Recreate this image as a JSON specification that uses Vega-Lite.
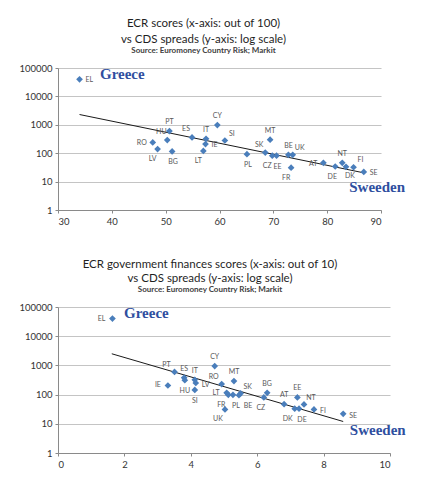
{
  "$schema": "https://vega.github.io/schema/vega-lite/v6.json",
  "background": "white",
  "padding": {"left": 18, "top": 17, "right": 0, "bottom": 0},
  "spacing": 32,
  "config": {
    "view": {"stroke": null},
    "font": "Lato",
    "axis": {"labelFont": "Lato", "labelFontSize": 9.5, "labelColor": "#333333", "tickColor": "#8a8a8a", "domainColor": "#8a8a8a", "tickSize": 3, "labelPadding": 3, "gridColor": "#C4C4C4", "gridWidth": 1.2, "title": null},
    "title": {"font": "Lato", "fontSize": 11.5, "fontWeight": "normal", "color": "#1f1f1f", "subtitleFont": "Lato", "subtitleFontSize": 8, "subtitleFontWeight": "bold", "subtitleColor": "#404040", "subtitlePadding": 2, "offset": 8, "anchor": "middle"},
    "text": {"font": "Lato", "fontSize": 7, "color": "#595959", "baseline": "middle"},
    "point": {"shape": "diamond", "filled": true, "size": 45, "color": "#4A7EBB", "opacity": 1}
  },
  "datasets": {
    "ecr": [
      {"c": "EL", "x": 34.0, "y": 40000},
      {"c": "RO", "x": 47.6, "y": 240},
      {"c": "LV", "x": 48.5, "y": 140},
      {"c": "HU", "x": 50.3, "y": 290},
      {"c": "PT", "x": 50.7, "y": 600},
      {"c": "BG", "x": 51.2, "y": 115},
      {"c": "ES", "x": 54.9, "y": 360},
      {"c": "IT", "x": 57.5, "y": 320},
      {"c": "IE", "x": 57.4, "y": 210},
      {"c": "LT", "x": 57.0, "y": 120},
      {"c": "CY", "x": 59.6, "y": 980},
      {"c": "SI", "x": 61.0, "y": 280},
      {"c": "PL", "x": 65.1, "y": 92},
      {"c": "SK", "x": 68.5, "y": 105},
      {"c": "MT", "x": 69.4, "y": 300},
      {"c": "CZ", "x": 69.8, "y": 82},
      {"c": "EE", "x": 70.6, "y": 82},
      {"c": "FR", "x": 73.3, "y": 31},
      {"c": "BE", "x": 72.8, "y": 88},
      {"c": "UK", "x": 73.6, "y": 88},
      {"c": "AT", "x": 79.3, "y": 46},
      {"c": "DE", "x": 81.5, "y": 34},
      {"c": "NT", "x": 82.8, "y": 46},
      {"c": "DK", "x": 83.5, "y": 33},
      {"c": "FI", "x": 84.9, "y": 32},
      {"c": "SE", "x": 86.8, "y": 22}
    ],
    "ecrTrend": [
      {"x": 34.0, "y": 2300},
      {"x": 87.0, "y": 20}
    ],
    "ecrNote": [
      {"t": "Greece", "x": 37.8, "y": 62000},
      {"t": "Sweeden", "x": 84.1, "y": 6.6}
    ],
    "gov": [
      {"c": "EL", "x": 1.64, "y": 40000},
      {"c": "PT", "x": 3.51, "y": 600},
      {"c": "IE", "x": 3.31, "y": 205},
      {"c": "ES", "x": 3.80, "y": 380},
      {"c": "HU", "x": 3.82, "y": 310},
      {"c": "IT", "x": 4.12, "y": 320},
      {"c": "LV", "x": 4.15, "y": 250},
      {"c": "SI", "x": 4.12, "y": 145},
      {"c": "CY", "x": 4.72, "y": 950},
      {"c": "RO", "x": 4.93, "y": 230},
      {"c": "MT", "x": 5.30, "y": 290},
      {"c": "LT", "x": 5.08, "y": 115},
      {"c": "FR", "x": 5.13, "y": 98},
      {"c": "PL", "x": 5.27, "y": 98},
      {"c": "SK", "x": 5.50, "y": 110},
      {"c": "BE", "x": 5.45, "y": 95},
      {"c": "UK", "x": 5.03, "y": 31},
      {"c": "CZ", "x": 6.20, "y": 80},
      {"c": "BG", "x": 6.30, "y": 115},
      {"c": "AT", "x": 6.81, "y": 47},
      {"c": "EE", "x": 7.21, "y": 80},
      {"c": "DK", "x": 7.13, "y": 33},
      {"c": "DE", "x": 7.26, "y": 33},
      {"c": "NT", "x": 7.41, "y": 46},
      {"c": "FI", "x": 7.71, "y": 31},
      {"c": "SE", "x": 8.59, "y": 22}
    ],
    "govTrend": [
      {"x": 1.62, "y": 2500},
      {"x": 8.59, "y": 12}
    ],
    "govNote": [
      {"t": "Greece", "x": 1.99, "y": 63000},
      {"t": "Sweeden", "x": 8.79, "y": 6.3}
    ]
  },
  "vconcat": [
    {
      "width": 323,
      "height": 142,
      "title": {"text": ["ECR scores (x-axis: out of 100)", "vs CDS spreads (y-axis: log scale)"], "subtitle": "Source: Euromoney Country Risk; Markit", "lineHeight": 16, "dx": -16},
      "layer": [
        {
          "data": {"name": "ecrTrend"},
          "mark": {"type": "line", "color": "#1a1a1a", "strokeWidth": 1},
          "encoding": {
            "x": {"field": "x", "type": "quantitative", "scale": {"domain": [30, 90], "nice": false}, "axis": {"values": [30, 40, 50, 60, 70, 80, 90], "grid": false}},
            "y": {"field": "y", "type": "quantitative", "scale": {"type": "log", "domain": [1, 100000], "nice": false}, "axis": {"values": [1, 10, 100, 1000, 10000, 100000], "format": "d", "grid": true}}
          }
        },
        {
          "data": {"name": "ecr"},
          "mark": {"type": "point"},
          "encoding": {"x": {"field": "x", "type": "quantitative"}, "y": {"field": "y", "type": "quantitative"}}
        },
        {
          "data": {"name": "ecr"},
          "transform": [{"filter": {"field": "c", "oneOf": ["EL", "IE", "SE"]}}],
          "mark": {"type": "text", "align": "left", "dx": 6, "dy": 1},
          "encoding": {"x": {"field": "x", "type": "quantitative"}, "y": {"field": "y", "type": "quantitative"}, "text": {"field": "c"}}
        },
        {
          "data": {"name": "ecr"},
          "transform": [{"filter": {"field": "c", "oneOf": ["RO", "AT"]}}],
          "mark": {"type": "text", "align": "right", "dx": -6, "dy": 1},
          "encoding": {"x": {"field": "x", "type": "quantitative"}, "y": {"field": "y", "type": "quantitative"}, "text": {"field": "c"}}
        },
        {
          "data": {"name": "ecr"},
          "transform": [{"filter": {"field": "c", "oneOf": ["PT", "IT", "CY", "MT", "BE", "NT"]}}],
          "mark": {"type": "text", "align": "center", "dy": -9},
          "encoding": {"x": {"field": "x", "type": "quantitative"}, "y": {"field": "y", "type": "quantitative"}, "text": {"field": "c"}}
        },
        {
          "data": {"name": "ecr"},
          "transform": [{"filter": {"field": "c", "oneOf": ["HU", "ES", "SK"]}}],
          "mark": {"type": "text", "align": "center", "dx": -6, "dy": -8},
          "encoding": {"x": {"field": "x", "type": "quantitative"}, "y": {"field": "y", "type": "quantitative"}, "text": {"field": "c"}}
        },
        {
          "data": {"name": "ecr"},
          "transform": [{"filter": {"field": "c", "oneOf": ["SI", "FI", "UK"]}}],
          "mark": {"type": "text", "align": "center", "dx": 7, "dy": -7},
          "encoding": {"x": {"field": "x", "type": "quantitative"}, "y": {"field": "y", "type": "quantitative"}, "text": {"field": "c"}}
        },
        {
          "data": {"name": "ecr"},
          "transform": [{"filter": {"field": "c", "oneOf": ["BG", "PL", "EE"]}}],
          "mark": {"type": "text", "align": "center", "dx": 1, "dy": 11},
          "encoding": {"x": {"field": "x", "type": "quantitative"}, "y": {"field": "y", "type": "quantitative"}, "text": {"field": "c"}}
        },
        {
          "data": {"name": "ecr"},
          "transform": [{"filter": {"field": "c", "oneOf": ["DE"]}}],
          "mark": {"type": "text", "align": "center", "dx": -3, "dy": 10},
          "encoding": {"x": {"field": "x", "type": "quantitative"}, "y": {"field": "y", "type": "quantitative"}, "text": {"field": "c"}}
        },
        {
          "data": {"name": "ecr"},
          "transform": [{"filter": {"field": "c", "oneOf": ["DK"]}}],
          "mark": {"type": "text", "align": "center", "dx": 4, "dy": 9},
          "encoding": {"x": {"field": "x", "type": "quantitative"}, "y": {"field": "y", "type": "quantitative"}, "text": {"field": "c"}}
        },
        {
          "data": {"name": "ecr"},
          "transform": [{"filter": {"field": "c", "oneOf": ["LV", "LT", "CZ", "FR"]}}],
          "mark": {"type": "text", "align": "center", "dx": -5, "dy": 10},
          "encoding": {"x": {"field": "x", "type": "quantitative"}, "y": {"field": "y", "type": "quantitative"}, "text": {"field": "c"}}
        },
        {
          "data": {"name": "ecrNote"},
          "mark": {"type": "text", "align": "left", "font": "Liberation Serif", "fontWeight": "bold", "fontSize": 15, "color": "#2F4F9F"},
          "encoding": {"x": {"field": "x", "type": "quantitative"}, "y": {"field": "y", "type": "quantitative"}, "text": {"field": "t"}}
        }
      ]
    },
    {
      "width": 332,
      "height": 146,
      "title": {"text": ["ECR government finances scores (x-axis: out of 10)", "vs CDS spreads (y-axis: log scale)"], "subtitle": "Source: Euromoney Country Risk; Markit", "lineHeight": 14, "dx": -14},
      "layer": [
        {
          "data": {"name": "govTrend"},
          "mark": {"type": "line", "color": "#1a1a1a", "strokeWidth": 1},
          "encoding": {
            "x": {"field": "x", "type": "quantitative", "scale": {"domain": [0, 10], "nice": false}, "axis": {"values": [0, 2, 4, 6, 8, 10], "grid": false}},
            "y": {"field": "y", "type": "quantitative", "scale": {"type": "log", "domain": [1, 100000], "nice": false}, "axis": {"values": [1, 10, 100, 1000, 10000, 100000], "format": "d", "grid": true}}
          }
        },
        {
          "data": {"name": "gov"},
          "mark": {"type": "point"},
          "encoding": {"x": {"field": "x", "type": "quantitative"}, "y": {"field": "y", "type": "quantitative"}}
        },
        {
          "data": {"name": "gov"},
          "transform": [{"filter": {"field": "c", "oneOf": ["EL", "IE", "LT"]}}],
          "mark": {"type": "text", "align": "right", "dx": -7, "dy": 0},
          "encoding": {"x": {"field": "x", "type": "quantitative"}, "y": {"field": "y", "type": "quantitative"}, "text": {"field": "c"}}
        },
        {
          "data": {"name": "gov"},
          "transform": [{"filter": {"field": "c", "oneOf": ["PT", "RO"]}}],
          "mark": {"type": "text", "align": "center", "dx": -8, "dy": -7},
          "encoding": {"x": {"field": "x", "type": "quantitative"}, "y": {"field": "y", "type": "quantitative"}, "text": {"field": "c"}}
        },
        {
          "data": {"name": "gov"},
          "transform": [{"filter": {"field": "c", "oneOf": ["ES", "IT", "CY", "MT", "BG", "AT", "EE"]}}],
          "mark": {"type": "text", "align": "center", "dy": -9},
          "encoding": {"x": {"field": "x", "type": "quantitative"}, "y": {"field": "y", "type": "quantitative"}, "text": {"field": "c"}}
        },
        {
          "data": {"name": "gov"},
          "transform": [{"filter": {"field": "c", "oneOf": ["SK", "NT"]}}],
          "mark": {"type": "text", "align": "center", "dx": 7, "dy": -6},
          "encoding": {"x": {"field": "x", "type": "quantitative"}, "y": {"field": "y", "type": "quantitative"}, "text": {"field": "c"}}
        },
        {
          "data": {"name": "gov"},
          "transform": [{"filter": {"field": "c", "oneOf": ["LV", "FI", "SE"]}}],
          "mark": {"type": "text", "align": "left", "dx": 6, "dy": 2},
          "encoding": {"x": {"field": "x", "type": "quantitative"}, "y": {"field": "y", "type": "quantitative"}, "text": {"field": "c"}}
        },
        {
          "data": {"name": "gov"},
          "transform": [{"filter": {"field": "c", "oneOf": ["SI", "HU"]}}],
          "mark": {"type": "text", "align": "center", "dy": 11},
          "encoding": {"x": {"field": "x", "type": "quantitative"}, "y": {"field": "y", "type": "quantitative"}, "text": {"field": "c"}}
        },
        {
          "data": {"name": "gov"},
          "transform": [{"filter": {"field": "c", "oneOf": ["FR", "UK", "DK"]}}],
          "mark": {"type": "text", "align": "center", "dx": -7, "dy": 10},
          "encoding": {"x": {"field": "x", "type": "quantitative"}, "y": {"field": "y", "type": "quantitative"}, "text": {"field": "c"}}
        },
        {
          "data": {"name": "gov"},
          "transform": [{"filter": {"field": "c", "oneOf": ["CZ"]}}],
          "mark": {"type": "text", "align": "center", "dx": -3, "dy": 11},
          "encoding": {"x": {"field": "x", "type": "quantitative"}, "y": {"field": "y", "type": "quantitative"}, "text": {"field": "c"}}
        },
        {
          "data": {"name": "gov"},
          "transform": [{"filter": {"field": "c", "oneOf": ["PL", "DE"]}}],
          "mark": {"type": "text", "align": "center", "dx": 3, "dy": 11},
          "encoding": {"x": {"field": "x", "type": "quantitative"}, "y": {"field": "y", "type": "quantitative"}, "text": {"field": "c"}}
        },
        {
          "data": {"name": "gov"},
          "transform": [{"filter": {"field": "c", "oneOf": ["BE"]}}],
          "mark": {"type": "text", "align": "center", "dx": 9, "dy": 11},
          "encoding": {"x": {"field": "x", "type": "quantitative"}, "y": {"field": "y", "type": "quantitative"}, "text": {"field": "c"}}
        },
        {
          "data": {"name": "govNote"},
          "mark": {"type": "text", "align": "left", "font": "Liberation Serif", "fontWeight": "bold", "fontSize": 15, "color": "#2F4F9F"},
          "encoding": {"x": {"field": "x", "type": "quantitative"}, "y": {"field": "y", "type": "quantitative"}, "text": {"field": "t"}}
        }
      ]
    }
  ]
}
